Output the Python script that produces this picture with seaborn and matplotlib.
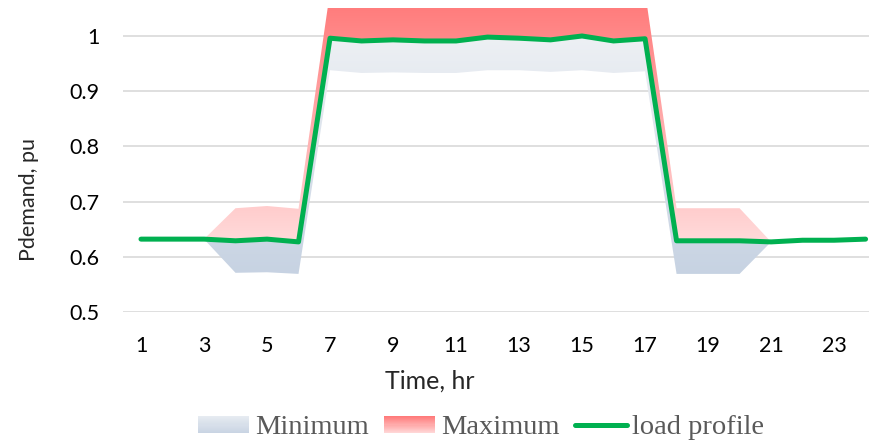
import numpy as np
import pandas as pd
import matplotlib
matplotlib.use("Agg")
import matplotlib.pyplot as plt
import seaborn as sns
from matplotlib.colors import LinearSegmentedColormap
from matplotlib.patches import Rectangle
from matplotlib.lines import Line2D
from matplotlib.legend_handler import HandlerBase

# data
hours = list(range(1, 25))
load = [0.632, 0.632, 0.632, 0.629, 0.632, 0.627,
        0.996, 0.991, 0.993, 0.991, 0.991, 0.998,
        0.996, 0.993, 1.000, 0.991, 0.995,
        0.629, 0.629, 0.629, 0.627, 0.630, 0.630, 0.632]
minimum = [0.632, 0.632, 0.632, 0.571, 0.572, 0.569,
           0.938, 0.933, 0.934, 0.933, 0.933, 0.938,
           0.938, 0.935, 0.938, 0.933, 0.936,
           0.569, 0.569, 0.569, 0.627, 0.630, 0.630, 0.632]
maximum = [0.632, 0.632, 0.632, 0.688, 0.692, 0.687,
           1.080, 1.080, 1.080, 1.080, 1.080, 1.080,
           1.080, 1.080, 1.080, 1.080, 1.080,
           0.688, 0.688, 0.688, 0.627, 0.630, 0.630, 0.632]
xticks = list(range(1, 24, 2))
yticks = [0.5, 0.6, 0.7, 0.8, 0.9, 1.0]
ytick_labels = ["0.5", "0.6", "0.7", "0.8", "0.9", "1"]

df = pd.DataFrame({"hour": hours, "load": load, "min": minimum, "max": maximum})

sns.set_style("white")
plt.rcParams["font.family"] = ["Lato", "DejaVu Sans"]

fig = plt.figure(figsize=(8.7, 4.46), dpi=100)
ax = fig.add_axes([123 / 870, 1 - 312 / 446, 747 / 870, 304 / 446])

xlo, xhi = 0.429, 24.14
ylo, yhi = 0.5, 1.0507


def gradient_fill(lower, upper, c_bottom, c_top, y0, y1):
    poly = ax.fill_between(df["hour"], lower, upper, facecolor="none", edgecolor="none")
    cmap = LinearSegmentedColormap.from_list("g", [c_bottom, c_top])
    grad = np.linspace(0, 1, 256).reshape(-1, 1)
    im = ax.imshow(grad, cmap=cmap, origin="lower", aspect="auto",
                   extent=[xlo, xhi, y0, y1], zorder=1)
    im.set_clip_path(poly.get_paths()[0], transform=ax.transData)


gradient_fill(df["min"], df["load"], "#c6d2e2", "#edf0f4", 0.56, 1.0)
gradient_fill(df["load"], df["max"], "#ffdcdc", "#ff7b7b", 0.62, 1.06)

sns.lineplot(data=df, x="hour", y="load", color="#00b050", lw=3.6, ax=ax, zorder=3)

ax.set_xlim(xlo, xhi)
ax.set_ylim(ylo, yhi)
ax.set_xticks(xticks)
ax.set_yticks(yticks)
ax.set_yticklabels(ytick_labels)
ax.tick_params(axis="x", labelsize=15.5, length=0, colors="black", pad=17)
ax.tick_params(axis="y", labelsize=15.5, length=0, colors="black", pad=17)
ax.yaxis.grid(True, color="#d9d9d9", lw=1.2, zorder=0)
ax.set_axisbelow(True)
for s in ax.spines.values():
    s.set_visible(False)

ax.set_xlabel("Time, hr", fontsize=18)
ax.set_ylabel("Pdemand, pu", fontsize=15.5)
ax.xaxis.set_label_coords(0.41, -0.19)
ax.yaxis.set_label_coords(-0.113, 0.37)


# legend swatches with a vertical gradient like the fills
class GradHandler(HandlerBase):
    def __init__(self, c_bottom, c_top):
        super().__init__()
        self.cmap = LinearSegmentedColormap.from_list("h", [c_bottom, c_top])

    def create_artists(self, legend, orig_handle, xdescent, ydescent,
                       width, height, fontsize, trans):
        n = 16
        arts = []
        for i in range(n):
            arts.append(Rectangle((-xdescent, -ydescent + height * i / n), width,
                                  height / n * 1.1, facecolor=self.cmap(i / (n - 1)),
                                  edgecolor="none", transform=trans))
        return arts


h_min = Rectangle((0, 0), 1, 1)
h_max = Rectangle((0, 0), 1, 1)
h_line = Line2D([0], [0], color="#00b050", lw=3.6)
leg = fig.legend([h_min, h_max, h_line], ["Minimum", "Maximum", "load profile"],
                 loc="center", bbox_to_anchor=(481 / 870, 1 - 428 / 446), ncol=3,
                 frameon=False, prop={"family": "Liberation Serif", "size": 20.5},
                 handlelength=1.8, handleheight=0.55, handletextpad=0.2,
                 columnspacing=0.55, labelcolor="#595959",
                 handler_map={h_min: GradHandler("#c9d4e3", "#e6ebf1"),
                              h_max: GradHandler("#ffd6d6", "#ff7a7a")})

plt.savefig("out.png", dpi=100)
